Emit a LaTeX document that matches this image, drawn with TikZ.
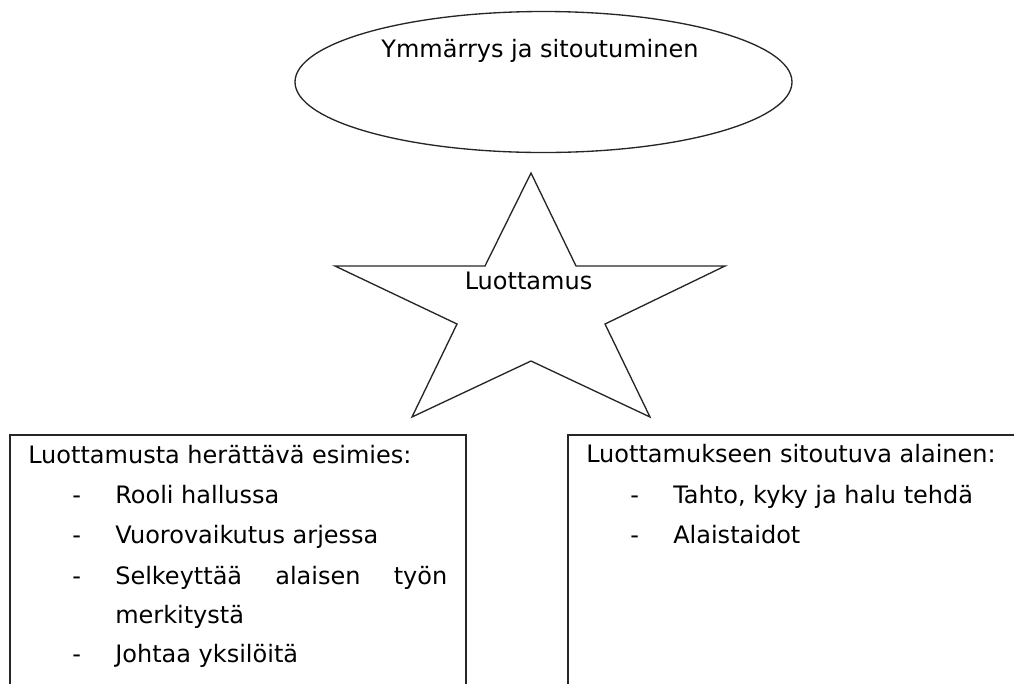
\documentclass[tikz,border=0pt]{standalone}
\usepackage{fontspec}
\setmainfont{DejaVu Sans}
\usetikzlibrary{positioning}

\tikzset{
  outline/.style={draw=black!85, line width=1pt},
  txt/.style={font=\fontsize{18}{22}\selectfont, inner sep=0pt, anchor=base west},
}

\begin{document}
\begin{tikzpicture}[x=0.75pt, y=-0.75pt]
\useasboundingbox (0,0) rectangle (1014,683);

% Goal ellipse
\draw[outline] (543.5,82) ellipse [x radius=248.5, y radius=70.5];
\node[txt, anchor=base] (goal) at (540,57) {Ymmärrys ja sitoutuminen};

% Trust star
\draw[outline] (531,173) -- (576,266) -- (725,266) -- (605,324) -- (650,417)
   -- (531,361) -- (412,417) -- (457,324) -- (335,266) -- (485,266) -- cycle;
\node[txt, anchor=base] (trust) at (528.5,289) {Luottamus};

% Boxes (cut off at the bottom)
\draw[outline] (10,700) |- (466,435) -- (466,700);
\draw[outline] (568,700) |- (1030,435);

% Left box: superior
\node[txt] (boss) at (28,463) {Luottamusta herättävä esimies:};
\foreach \y/\entry [count=\i] in {503/Rooli hallussa, 543/Vuorovaikutus arjessa,
      584/{\makebox[249pt][s]{Selkeyttää alaisen työn}}, 662/Johtaa yksilöitä} {
   \node[txt] (bossdash\i) at (72,\y) {-};
   \node[txt] (bossitem\i) at (115,\y) {\entry};
}
\node[txt] (bossitem3b) at (115,623) {merkitystä};

% Right box: subordinate
\node[txt] (staff) at (586,462) {Luottamukseen sitoutuva alainen:};
\foreach \y/\entry [count=\i] in {503/{Tahto, kyky ja halu tehdä}, 543/Alaistaidot} {
   \node[txt] (staffdash\i) at (630,\y) {-};
   \node[txt] (staffitem\i) at (673,\y) {\entry};
}
\end{tikzpicture}
\end{document}
